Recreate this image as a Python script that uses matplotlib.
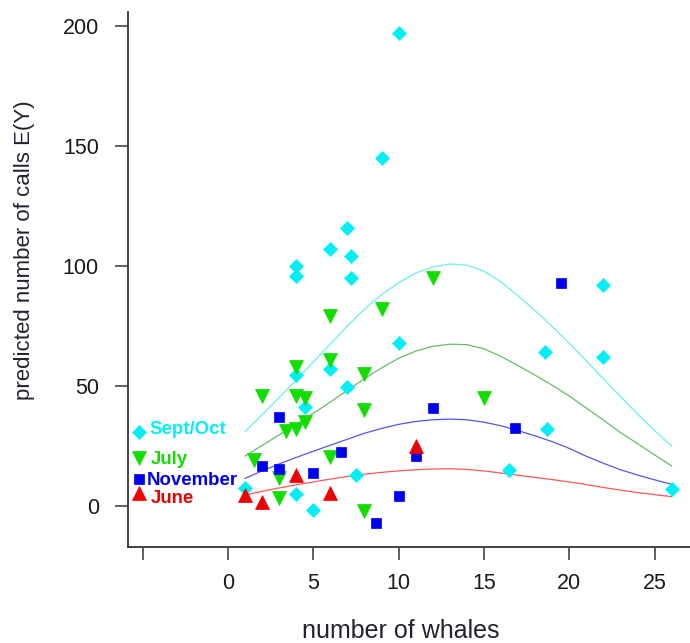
import matplotlib
matplotlib.use("Agg")
import matplotlib.pyplot as plt

plt.rcParams["font.family"] = ["Liberation Sans", "DejaVu Sans"]

# observed counts per season: (number of whales, calls)
sept_x = [10, 9, 7, 6, 7.2, 4, 4, 7.2, 10, 6, 4, 7, 4.5, 1, 4, 5, 7.5, 22, 18.6, 22, 18.7, 16.5, 26]
sept_y = [197, 145, 116, 107, 104, 100, 96, 95, 68, 57, 54.5, 49.5, 41.4, 7.4, 5, -1.5, 13, 92, 64, 62, 32, 15, 7]

july_x = [9, 6, 4, 6, 8, 2, 4, 4.5, 8, 4.5, 3.4, 4, 1.5, 6, 3, 3, 8, 12, 15]
july_y = [82, 79, 58, 61, 55, 46, 46, 45, 40, 35, 31.3, 32, 19.2, 20.4, 11.6, 3.3, -2, 95, 45]

nov_x = [3, 2, 3, 5, 6.6, 10, 8.7, 11, 12, 16.8, 19.5]
nov_y = [37.2, 16.5, 15.2, 13.6, 22.6, 4, -7, 21, 41, 32.5, 93]

june_x = [1, 2, 4, 6, 11]
june_y = [4.5, 1.8, 13, 5.3, 24.8]

# fitted curves at whole whale counts
curve_x = list(range(1, 27))
sept_fit = [31, 38, 45.2, 52.5, 60, 67.5, 75, 82, 88, 93, 97, 99.6, 100.8, 100.3, 97.8, 93.3,
            87.6, 81.4, 74.8, 67.8, 60.5, 53, 45.6, 38.3, 31.4, 25]
july_fit = [20.8, 25.2, 29.6, 34, 38.6, 43.3, 48.2, 53, 57.5, 61.5, 64.5, 66.5, 67.4, 67.2, 65.5, 62.3,
            58.5, 54.5, 50.3, 45.8, 40.8, 35.8, 30.6, 26, 21.3, 16.7]
nov_fit = [11.5, 14.6, 17.5, 20.2, 22.8, 25.3, 27.8, 30.3, 32.3, 34, 35.2, 35.9, 36.2, 35.9, 34.9, 33.4,
           31.4, 29.2, 26.8, 24, 20.7, 17.8, 15.1, 12.9, 10.9, 9]
june_fit = [4.6, 6.1, 7.5, 8.8, 10, 11.2, 12.3, 13.2, 14, 14.6, 15.1, 15.4, 15.5, 15.2, 14.6, 13.7,
            12.8, 11.9, 11, 10, 8.9, 7.7, 6.6, 5.6, 4.7, 3.9]

x_ticks = [-5, 0, 5, 10, 15, 20, 25]
x_ticklabels = ["", "0", "5", "10", "15", "20", "25"]
y_ticks = [0, 50, 100, 150, 200]

legend_names = ["Sept/Oct", "July", "November", "June"]
legend_marker_y = [31, 19.9, 11.1, 5.4]
legend_text_y = [32, 19.2, 10.4, 2.9]
legend_text_x = [-4.63, -4.5, -4.75, -4.5]

seasons = [
    (sept_x, sept_y, sept_fit, "D", 7.6, "#00F0F8", "#66F0F0"),
    (july_x, july_y, july_fit, "v", 9.5, "#11DD00", "#66BB66"),
    (nov_x, nov_y, nov_fit, "s", 7.8, "#0000F0", "#5555EE"),
    (june_x, june_y, june_fit, "^", 9.5, "#F00000", "#FF5555"),
]

fig = plt.figure(figsize=(6.9, 6.43), dpi=100)
ax = fig.add_axes([128 / 690, 96 / 643, 1 - 128 / 690, 535 / 643])

for xs, ys, fit, marker, ms, col, lcol in seasons:
    ax.plot(curve_x, fit, color=lcol, lw=0.9, zorder=2)
for xs, ys, fit, marker, ms, col, lcol in seasons:
    ax.plot(xs, ys, linestyle="none", marker=marker, ms=ms, color=col, mec=col, mew=0.5, zorder=3)

# legend drawn inside the plot, R style
for (xs, ys, fit, marker, ms, col, lcol), name, my, ty, tx in zip(
        seasons, legend_names, legend_marker_y, legend_text_y, legend_text_x):
    ax.plot([-5.2], [my], linestyle="none", marker=marker, ms=ms, color=col, mec=col, mew=0.5,
            clip_on=False, zorder=3)
    ax.text(tx, ty, name, color=col, fontsize=13.4, fontweight="bold", va="center", ha="left")

ax.set_xlim(-5.86, 27.08)
ax.set_ylim(-17.1, 205.8)
ax.set_xticks(x_ticks)
ax.set_xticklabels(x_ticklabels)
ax.set_yticks(y_ticks)

for side in ["top", "right"]:
    ax.spines[side].set_visible(False)
for side in ["left", "bottom"]:
    ax.spines[side].set_color("#333333")
    ax.spines[side].set_linewidth(1.3)

ax.tick_params(axis="both", direction="out", length=9.5, width=1.3, color="#555555",
               labelsize=15.5, labelcolor="#1a1a1a")
ax.tick_params(axis="x", pad=9.4)
ax.tick_params(axis="y", pad=11.5)

fig.text(25 / 690, 1 - 250 / 643, "predicted number of calls E(Y)", rotation=90,
         ha="center", va="center", fontsize=16, color="#222233")
fig.text(401 / 690, 5 / 643, "number of whales", ha="center", va="baseline",
         fontsize=18, color="#222233")

fig.savefig("out.png", dpi=100)
